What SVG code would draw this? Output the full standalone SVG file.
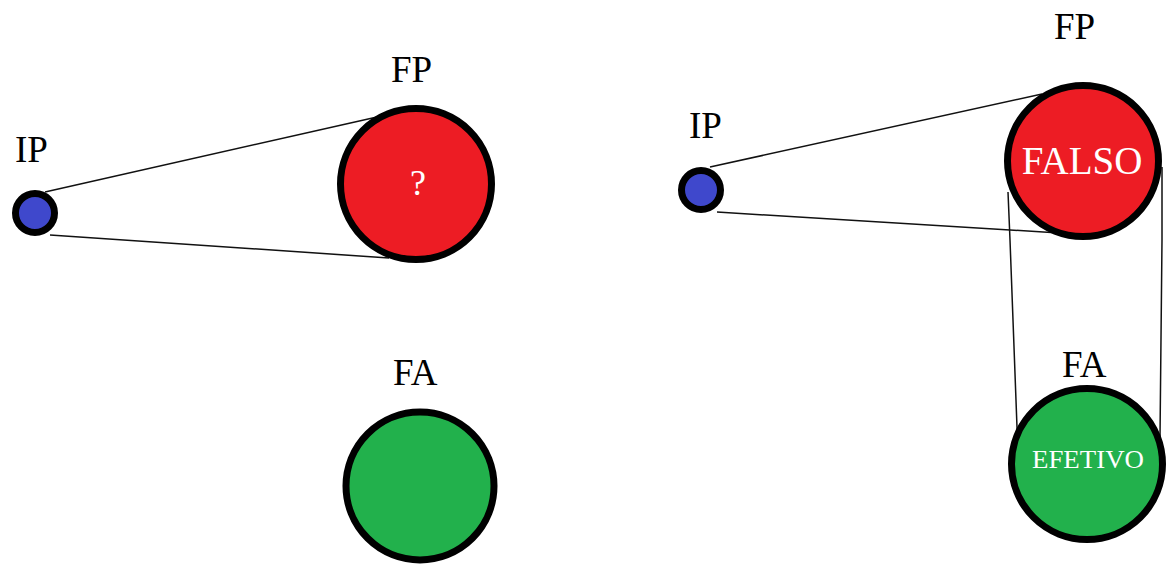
<svg xmlns="http://www.w3.org/2000/svg" width="1168" height="565" viewBox="0 0 1168 565">
<style>
text{font-family:'Liberation Serif','DejaVu Serif',serif}
.lbl{font-size:37px;fill:#000}
.in{fill:#fff;text-anchor:middle}
.c{stroke:#000;stroke-width:7}
.ip{fill:#3F48CC}
.fp{fill:#ED1C24}
.fa{fill:#22B14C}
.ln{stroke:#111;stroke-width:1.5;fill:none}
</style>
<rect width="1168" height="565" fill="#fff"/>
<g id="connectors">
<line class="ln" x1="45" y1="192" x2="377" y2="117"/>
<line class="ln" x1="50" y1="235" x2="389" y2="258"/>
<line class="ln" x1="710" y1="167" x2="1042" y2="94"/>
<line class="ln" x1="717" y1="212" x2="1059" y2="233"/>
<polyline class="ln" points="1008,192 1010,240 1017,427 1018,487"/>
<polyline class="ln" points="1162,167 1162,240 1160,437"/>
</g>
<g id="ip-left">
<circle class="c ip" cx="35" cy="213" r="19.5"/>
<text class="lbl" x="15" y="162">IP</text>
</g>
<g id="fp-left">
<circle class="c fp" cx="416" cy="184" r="75.5"/>
<text class="lbl" x="391" y="82">FP</text>
<text class="in" x="418" y="195" font-size="36">?</text>
</g>
<g id="fa-left">
<circle class="c fa" cx="420" cy="486" r="74"/>
<text class="lbl" x="393" y="385">FA</text>
</g>
<g id="ip-right">
<circle class="c ip" cx="701" cy="190" r="19.5"/>
<text class="lbl" x="689" y="138">IP</text>
</g>
<g id="fp-right">
<circle class="c fp" cx="1083" cy="161" r="75.5"/>
<text class="lbl" x="1054" y="39">FP</text>
<text class="in" x="1082" y="174" font-size="39">FALSO</text>
</g>
<g id="fa-right">
<circle class="c fa" cx="1087" cy="464" r="75.5"/>
<text class="lbl" x="1062" y="377">FA</text>
<text class="in" x="1088" y="468" font-size="26" textLength="112" lengthAdjust="spacingAndGlyphs">EFETIVO</text>
</g>
</svg>
